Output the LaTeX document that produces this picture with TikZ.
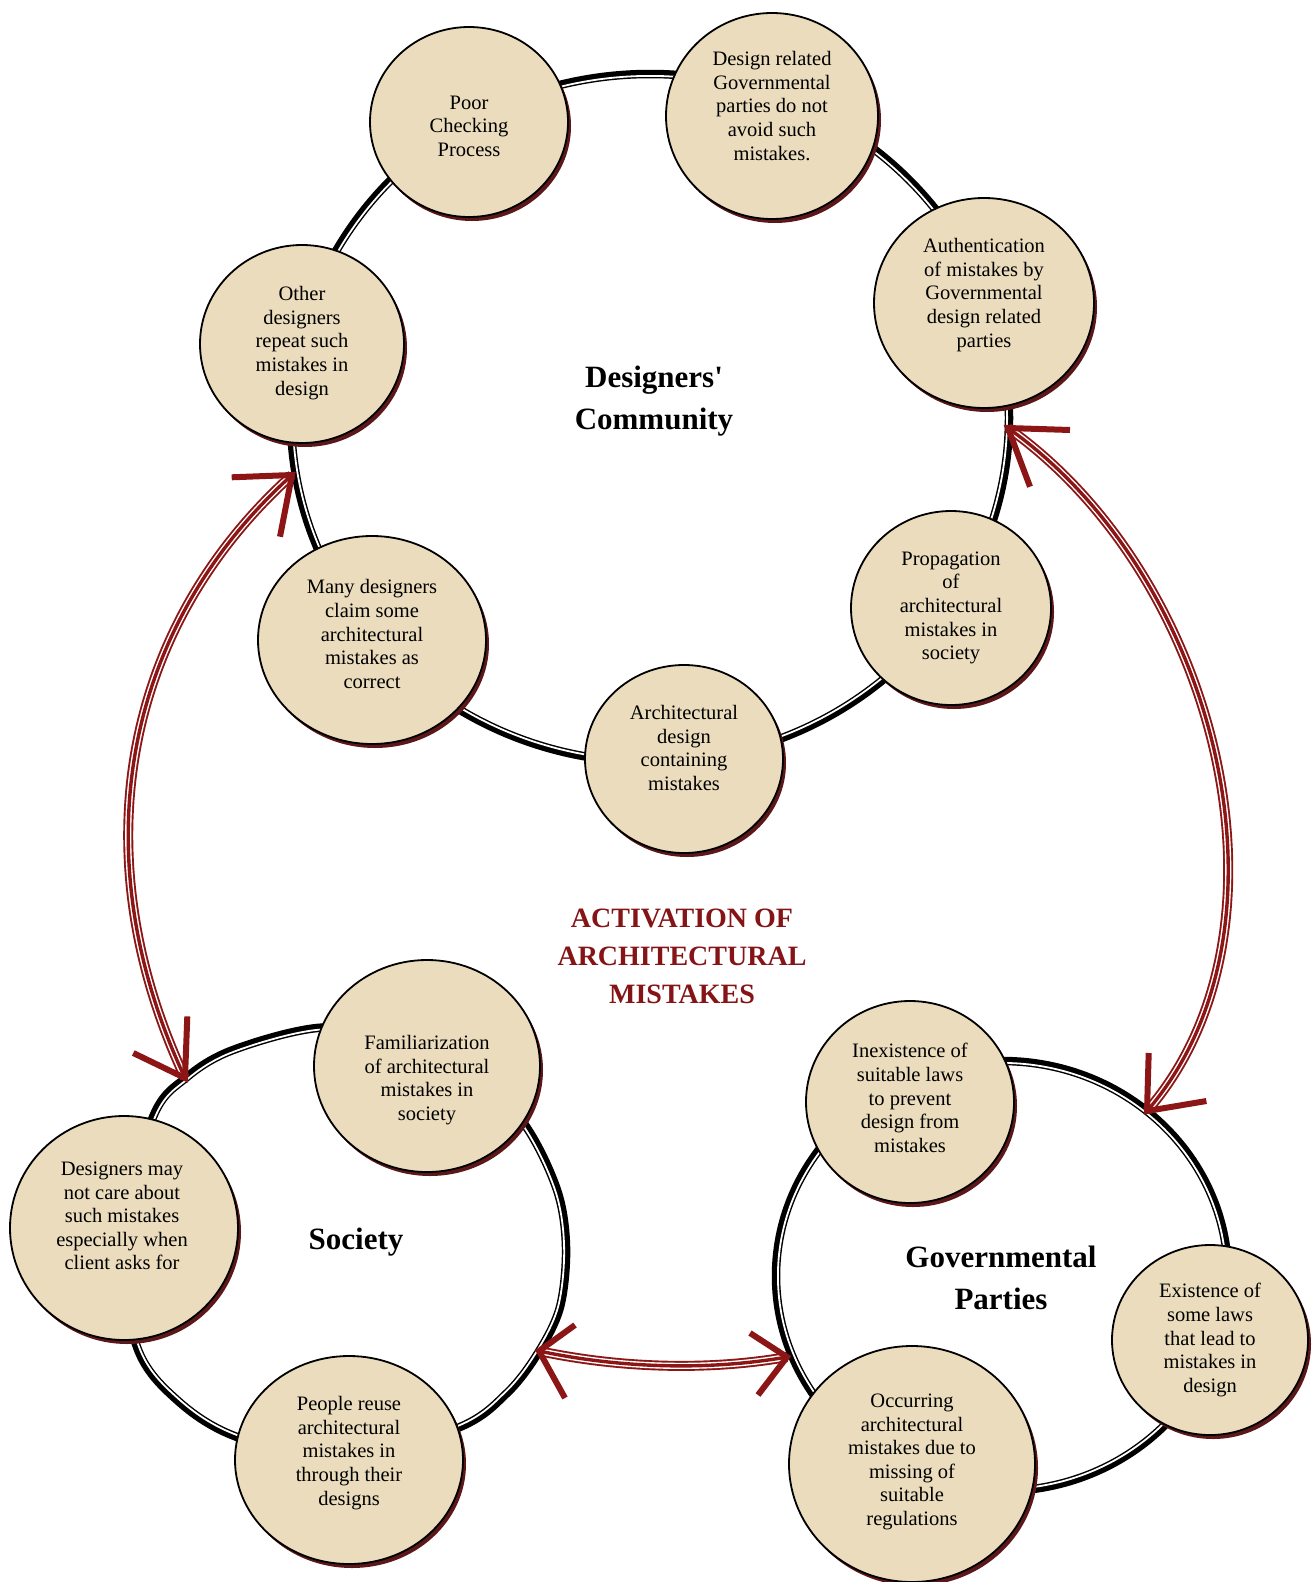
\documentclass[tikz,border=0pt]{standalone}
\usepackage{fontspec}
\setmainfont{Liberation Serif}
\usetikzlibrary{shapes.geometric,shadows,calc}
\definecolor{paper}{RGB}{234,220,188}
\definecolor{arrowred}{RGB}{140,22,22}
\definecolor{titlered}{RGB}{132,20,22}
\definecolor{shadowc}{RGB}{92,24,24}
\newcommand{\bubfont}{\fontsize{20.5pt}{23.6pt}\selectfont}
\newcommand{\headfont}{\fontsize{31pt}{41.5pt}\selectfont\bfseries}
\newcommand{\titlefont}{\fontsize{28pt}{38pt}\selectfont\bfseries}
\begin{document}
\begin{tikzpicture}[x=1pt, y=-1pt,
  ringline/.style={draw=black, line width=8.5pt},
  ringgap/.style={draw=white, line width=1.8pt},
  bubble/.style 2 args={ellipse, draw=black, line width=1.8pt, fill=paper, inner sep=0pt, minimum width=#1pt, minimum height=#2pt, drop shadow={shadow xshift=3pt, shadow yshift=-4pt, fill=shadowc, opacity=1}},
  bubtext/.style={align=center, font=\bubfont, text=black, inner sep=0pt},
  heading/.style={align=center, font=\headfont, text=black},
  titletext/.style={align=center, font=\titlefont, text=titlered},
  arrowshaft/.style={draw=arrowred, line width=10pt, postaction={draw=white, line width=6.2pt}, postaction={draw=arrowred, line width=3.4pt}},
  arrowhead/.style={draw=arrowred, line width=6pt, line join=miter, line cap=butt}
]
\useasboundingbox[fill=white] (0,0) rectangle (1316,1582);

% rings
\draw[ringline] (650,418) ellipse [x radius=359, y radius=344];
\draw[ringgap] (650,418) ellipse [x radius=357.1, y radius=342.1];

\draw[ringline] plot[smooth cycle, tension=0.55] coordinates {(317,1028) (402,1033) (471,1066) (525,1125) (557,1190) (566,1247) (560,1307) (538,1353) (507,1393) (460,1427) (345,1462) (237,1437) (177,1400) (137,1347) (120,1240) (153,1117) (187,1077) (233,1050)};
\begin{scope}[shift={(343,1245)}, scale=0.9915, shift={(-343,-1245)}]
\draw[ringgap] plot[smooth cycle, tension=0.55] coordinates {(317,1028) (402,1033) (471,1066) (525,1125) (557,1190) (566,1247) (560,1307) (538,1353) (507,1393) (460,1427) (345,1462) (237,1437) (177,1400) (137,1347) (120,1240) (153,1117) (187,1077) (233,1050)};
\end{scope}

\draw[ringline] (1002,1276) ellipse [x radius=226, y radius=215];
\draw[ringgap] (1002,1276) ellipse [x radius=224.1, y radius=213.1];

% arrow tips
\coordinate (lt) at (292,475);
\coordinate (lb) at (185,1078);
\coordinate (rt) at (1008,428);
\coordinate (rb) at (1147,1111);
\coordinate (bl) at (539,1351);
\coordinate (br) at (787,1357);

% arrows
\draw[arrowshaft] (lb) .. controls (82,858) and (120,630) .. (lt);
\draw[arrowshaft] (rt) .. controls (1219.6,578.1) and (1304.4,929.8) .. (rb);
\draw[arrowshaft] (bl) .. controls (619,1368) and (707,1371) .. (br);

\draw[arrowhead] ($(lt)+(-60.3,2.3)$) -- (lt) -- ($(lt)+(-12,61.7)$);
\draw[arrowhead] ($(lb)+(2.3,-61.6)$) -- (lb) -- ($(lb)+(-51.7,-25)$);
\draw[arrowhead] ($(rt)+(62,2)$) -- (rt) -- ($(rt)+(22,58.7)$);
\draw[arrowhead] ($(rb)+(1.7,-58)$) -- (rb) -- ($(rb)+(59.4,-10)$);
\draw[arrowhead] ($(bl)+(36,-26)$) -- (bl) -- ($(bl)+(26,47)$);
\draw[arrowhead] ($(br)+(-37,-24)$) -- (br) -- ($(br)+(-29,38)$);

% bubbles
\node[bubble={198}{190}] (b1) at (469,122) {};
\node[bubble={212}{206}] (b2) at (772,116) {};
\node[bubble={220}{210}] (b3) at (984,303) {};
\node[bubble={204}{198}] (b4) at (302,344) {};
\node[bubble={228}{208}] (b5) at (372,640) {};
\node[bubble={198}{188}] (b6) at (684,759) {};
\node[bubble={200}{194}] (b7) at (951,608) {};
\node[bubble={226}{212}] (b8) at (427,1066) {};
\node[bubble={228}{224}] (b9) at (124,1228) {};
\node[bubble={228}{208}] (b10) at (349,1460) {};
\node[bubble={208}{202}] (b11) at (910,1102) {};
\node[bubble={196}{190}] (b12) at (1210,1340) {};
\node[bubble={246}{236}] (b13) at (912,1464) {};

% bubble texts
\node[bubtext] (t1) at ($(b1.center)+(0,4)$) {Poor\\Checking\\Process};
\node[bubtext] (t2) at ($(b2.center)+(0,-10)$) {Design related\\Governmental\\parties do not\\avoid such\\mistakes.};
\node[bubtext] (t3) at ($(b3.center)+(0,-8)$) {Authentication\\of mistakes by\\Governmental\\design related\\parties};
\node[bubtext] (t4) at ($(b4.center)+(0,-1)$) {Other\\designers\\repeat such\\mistakes in\\design};
\node[bubtext] (t5) at ($(b5.center)+(0,-6)$) {Many designers\\claim some\\architectural\\mistakes as\\correct};
\node[bubtext] (t6) at ($(b6.center)+(0,-11)$) {Architectural\\design\\containing\\mistakes};
\node[bubtext] (t7) at ($(b7.center)+(0,0)$) {Propagation\\of\\architectural\\mistakes in\\society};
\node[bubtext] (t8) at ($(b8.center)+(0,14)$) {Familiarization\\of architectural\\mistakes in\\society};
\node[bubtext] (t9) at ($(b9.center)+(-2,-12)$) {Designers may\\not care about\\such mistakes\\especially when\\client asks for};
\node[bubtext] (t10) at ($(b10.center)+(0,-7)$) {People reuse\\architectural\\mistakes in\\through their\\designs};
\node[bubtext] (t11) at ($(b11.center)+(0,-4)$) {Inexistence of\\suitable laws\\to prevent\\design from\\mistakes};
\node[bubtext] (t12) at ($(b12.center)+(0,0)$) {Existence of\\some laws\\that lead to\\mistakes in\\design};
\node[bubtext] (t13) at ($(b13.center)+(0,-2)$) {Occurring\\architectural\\mistakes due to\\missing of\\suitable\\regulations};

% labels
\node[heading] (dclabel) at (654,401) {Designers\textquotesingle\\Community};
\node[heading] (soclabel) at (356,1242) {Society};
\node[heading] (govlabel) at (1001,1278) {Governmental\\Parties};
\node[titletext] (title) at (682,956) {ACTIVATION OF\\ARCHITECTURAL\\MISTAKES};
\end{tikzpicture}
\end{document}
